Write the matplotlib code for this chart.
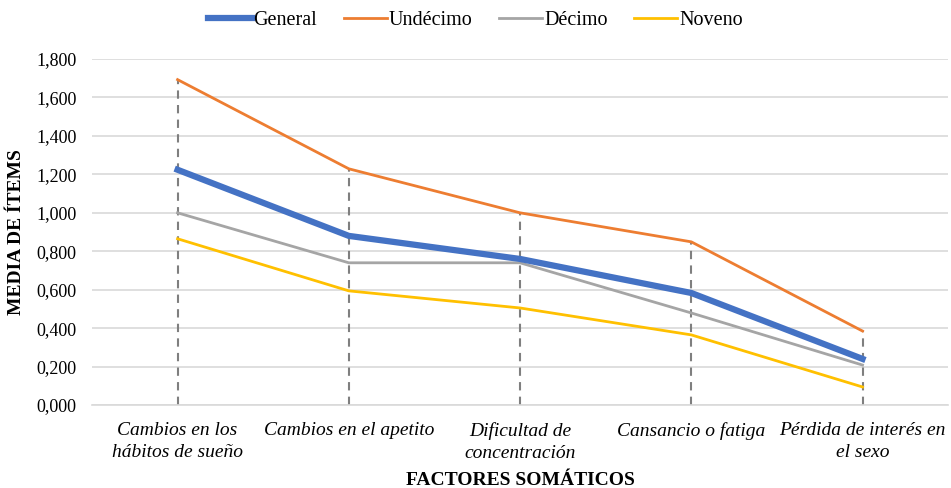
import numpy as np
import matplotlib.pyplot as plt
from matplotlib.ticker import FuncFormatter

categorias = ['Cambios en los\nhábitos de sueño', 'Cambios en el apetito',
              'Dificultad de\nconcentración', 'Cansancio o fatiga',
              'Pérdida de interés en\nel sexo']
general = [1.224, 0.880, 0.760, 0.583, 0.240]
undecimo = [1.693, 1.229, 1.000, 0.849, 0.385]
decimo = [1.000, 0.740, 0.740, 0.479, 0.208]
noveno = [0.865, 0.594, 0.505, 0.365, 0.094]

plt.rcParams['font.family'] = ['Liberation Serif', 'DejaVu Serif']

fig = plt.figure(figsize=(9.51, 4.88), dpi=100)
ax = fig.add_axes([0.0967, 0.17, 0.9003, 0.709])

x = np.arange(len(categorias))

# lineas de caida hasta el eje
ax.vlines(x, 0, np.max([general, undecimo, decimo, noveno], axis=0),
          colors='#7f7f7f', linestyles=(0, (4, 3)), linewidth=1.5, zorder=2)

ax.plot(x, general, color='#4472c4', linewidth=4.5, label='General', zorder=5)
ax.plot(x, undecimo, color='#ed7d31', linewidth=2, label='Undécimo', zorder=4)
ax.plot(x, decimo, color='#a5a5a5', linewidth=2, label='Décimo', zorder=3)
ax.plot(x, noveno, color='#ffc000', linewidth=2, label='Noveno', zorder=3)

ax.set_xlim(-0.5, len(categorias) - 0.5)
ax.set_ylim(0, 1.8)
ax.set_yticks(np.arange(0, 1.81, 0.2))
ax.yaxis.set_major_formatter(FuncFormatter(lambda v, p: f'{v:.3f}'.replace('.', ',')))
ax.grid(axis='y', color='#d9d9d9', linewidth=1.2)
ax.set_axisbelow(True)

ax.set_xticks(x)
ax.set_xticklabels(categorias, fontstyle='italic', fontsize=14, linespacing=1.4)
ax.tick_params(axis='y', labelsize=13, length=0, pad=11)
ax.tick_params(axis='x', length=0, pad=12)

for s in ['top', 'right', 'left']:
    ax.spines[s].set_visible(False)
ax.spines['bottom'].set_color('#d9d9d9')
ax.spines['bottom'].set_linewidth(1.2)

ax.set_ylabel('MEDIA DE ÍTEMS', fontweight='bold', fontsize=14, labelpad=8)
ax.set_xlabel('FACTORES SOMÁTICOS', fontweight='bold', fontsize=14, labelpad=7)

fig.legend(loc='upper center', bbox_to_anchor=(0.5, 1.015), ncol=4, frameon=False,
           fontsize=14.5, handlelength=2.15, handletextpad=0.1, columnspacing=1.3)

fig.savefig('out.png', dpi=100)
